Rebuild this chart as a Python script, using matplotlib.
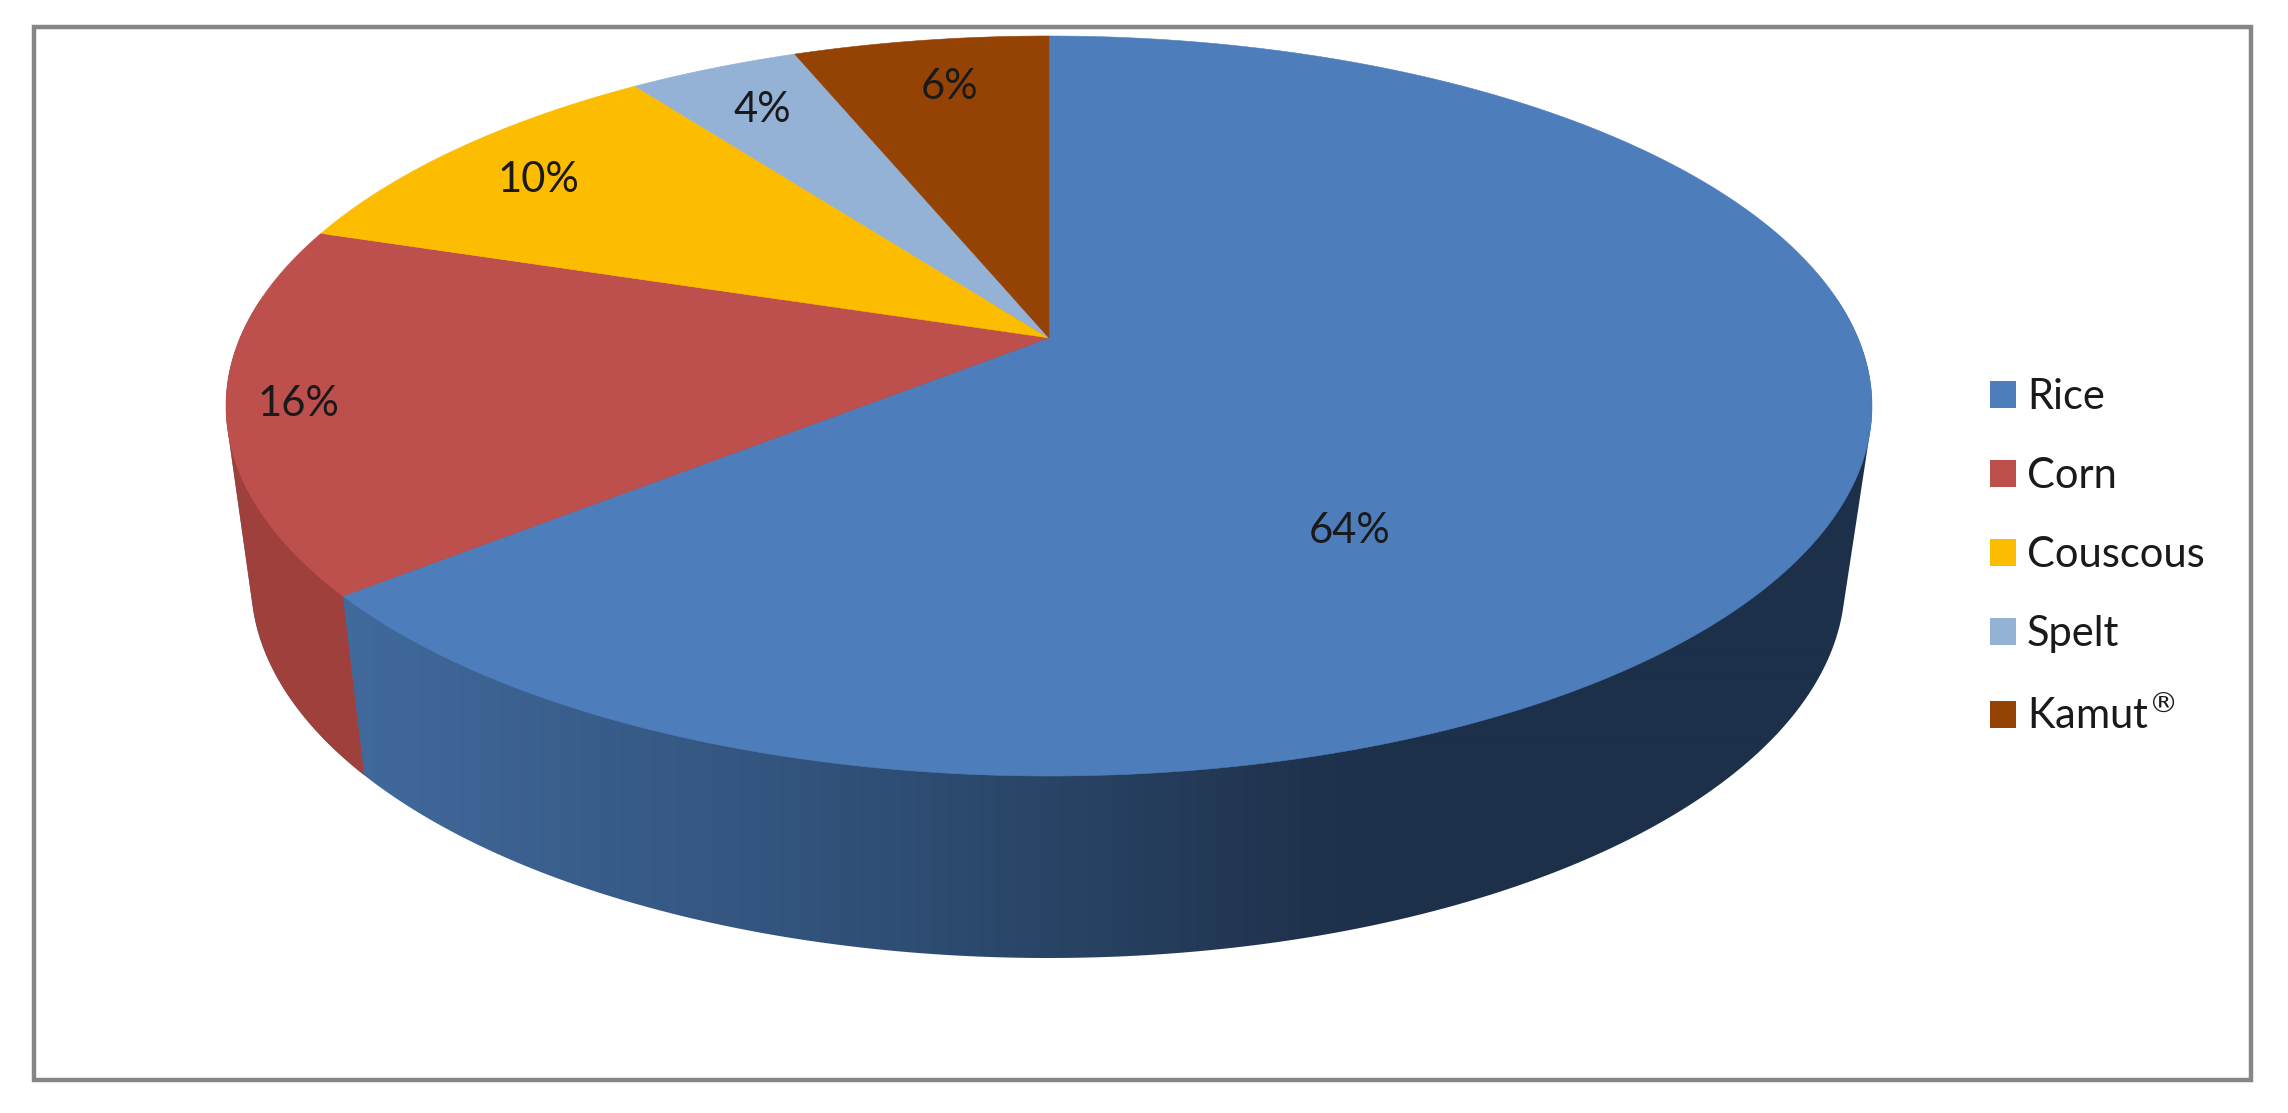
#!/usr/bin/env python3
"""3D-look pie of grain shares, drawn with a projective map of the unit circle -> out.png"""
import numpy as np
import matplotlib
matplotlib.use("Agg")
import matplotlib.pyplot as plt
from matplotlib.patches import Patch, Polygon, Rectangle

plt.rcParams["font.family"] = ["Lato", "DejaVu Sans"]

labels = ["Rice", "Corn", "Couscous", "Spelt", "Kamut$^{®}$"]
values = [64, 16, 10, 4, 6]
colors = ["#4d7ebb", "#bd4f4c", "#fcbc00", "#94b1d6", "#954305"]
pct_xy = [(1350, 531), (298, 404), (538, 180), (762, 110), (950, 87)]

W, H = 2288, 1113
TOP = (1049, 406, 823, 370)      # cx, cy, rx, ry of the top face
BOT = (1048, 582, 797, 376)      # same for the bottom rim
TILT = 0.184                     # perspective shift of the pie centre


def project(theta, ell, r=1.0):
    # theta clockwise from 12 o'clock, boost moves the centre up the ellipse
    cx, cy, rx, ry = ell
    x, y = r * np.sin(theta), r * np.cos(theta)
    den = 1 + TILT * y
    return cx + rx * x * np.sqrt(1 - TILT**2) / den, cy - ry * (y + TILT) / den


def hull(pts):
    pts = sorted(map(tuple, pts))
    def half(seq):
        out = []
        for p in seq:
            while len(out) > 1 and (out[-1][0] - out[-2][0]) * (p[1] - out[-2][1]) - (out[-1][1] - out[-2][1]) * (p[0] - out[-2][0]) <= 0:
                out.pop()
            out.append(p)
        return out[:-1]
    return half(pts) + half(pts[::-1])


fig = plt.figure(figsize=(W / 100, H / 100), dpi=100)
ax = fig.add_axes([0, 0, 1, 1])
ax.set_xlim(0, W)
ax.set_ylim(H, 0)
ax.axis("off")

ax.add_patch(Rectangle((34, 27), 2217, 1053, fill=False, ec="#868686", lw=3.2, joinstyle="miter"))

# side wall: horizontal gradient clipped to the hull of both rims
ring = np.linspace(0, 2 * np.pi, 721)
rim = np.r_[np.c_[project(ring, TOP)], np.c_[project(ring, BOT)]]
shell = Polygon(hull(rim), closed=True, fc="none", ec="none")
ax.add_patch(shell)
grad_x = [340, 900, 1060, 1300, 1400, 1900]
grad_c = np.array([[0x41, 0x6a, 0x9d], [0x2f, 0x4e, 0x75], [0x28, 0x44, 0x65],
                   [0x20, 0x33, 0x4e], [0x1d, 0x30, 0x4a], [0x1d, 0x30, 0x4a]]) / 255
xs = np.arange(200, 1900)
strip = np.stack([np.interp(xs, grad_x, grad_c[:, i]) for i in range(3)], axis=-1)[None, :, :]
img = ax.imshow(strip, extent=(200, 1900, 1000, 300), aspect="auto", interpolation="bilinear", zorder=1)
ax.set_xlim(0, W)
ax.set_ylim(H, 0)
img.set_clip_path(shell)

# first wedge ends where the red wall starts
edges = np.cumsum([0] + values) / sum(values) * 2 * np.pi
seam_top = project(edges[1], TOP)
seam_bot = project(edges[1], BOT)
red_wall = Polygon([seam_top, seam_bot, (seam_bot[0], 1000), (200, 1000), (200, 300), (seam_top[0], 300)],
                   closed=True, fc="#9f403d", ec="none", zorder=2)
ax.add_patch(red_wall)
red_wall.set_clip_path(shell)

# top face
apex = project(0.0, TOP, r=0.0)
for i, color in enumerate(colors):
    arc = np.linspace(edges[i], edges[i + 1], 300)
    ax.add_patch(Polygon(np.r_[[apex], np.c_[project(arc, TOP)]], closed=True, fc=color, ec=color, lw=0.4, zorder=3))

for v, (x, y) in zip(values, pct_xy):
    ax.text(x, y, f"{v}%", ha="center", va="center", fontsize=30, color="#1a1a1a", zorder=4)

handles = [Patch(fc=c, ec="none") for c in colors]
ax.legend(handles, labels, loc="center left", bbox_to_anchor=(1990, 557), bbox_transform=ax.transData,
          frameon=False, fontsize=30, handlelength=0.62, handleheight=0.62, handletextpad=0.27,
          labelspacing=0.985, borderpad=0, borderaxespad=0, labelcolor="#1a1a1a")

fig.savefig("out.png", dpi=100, facecolor="white")
